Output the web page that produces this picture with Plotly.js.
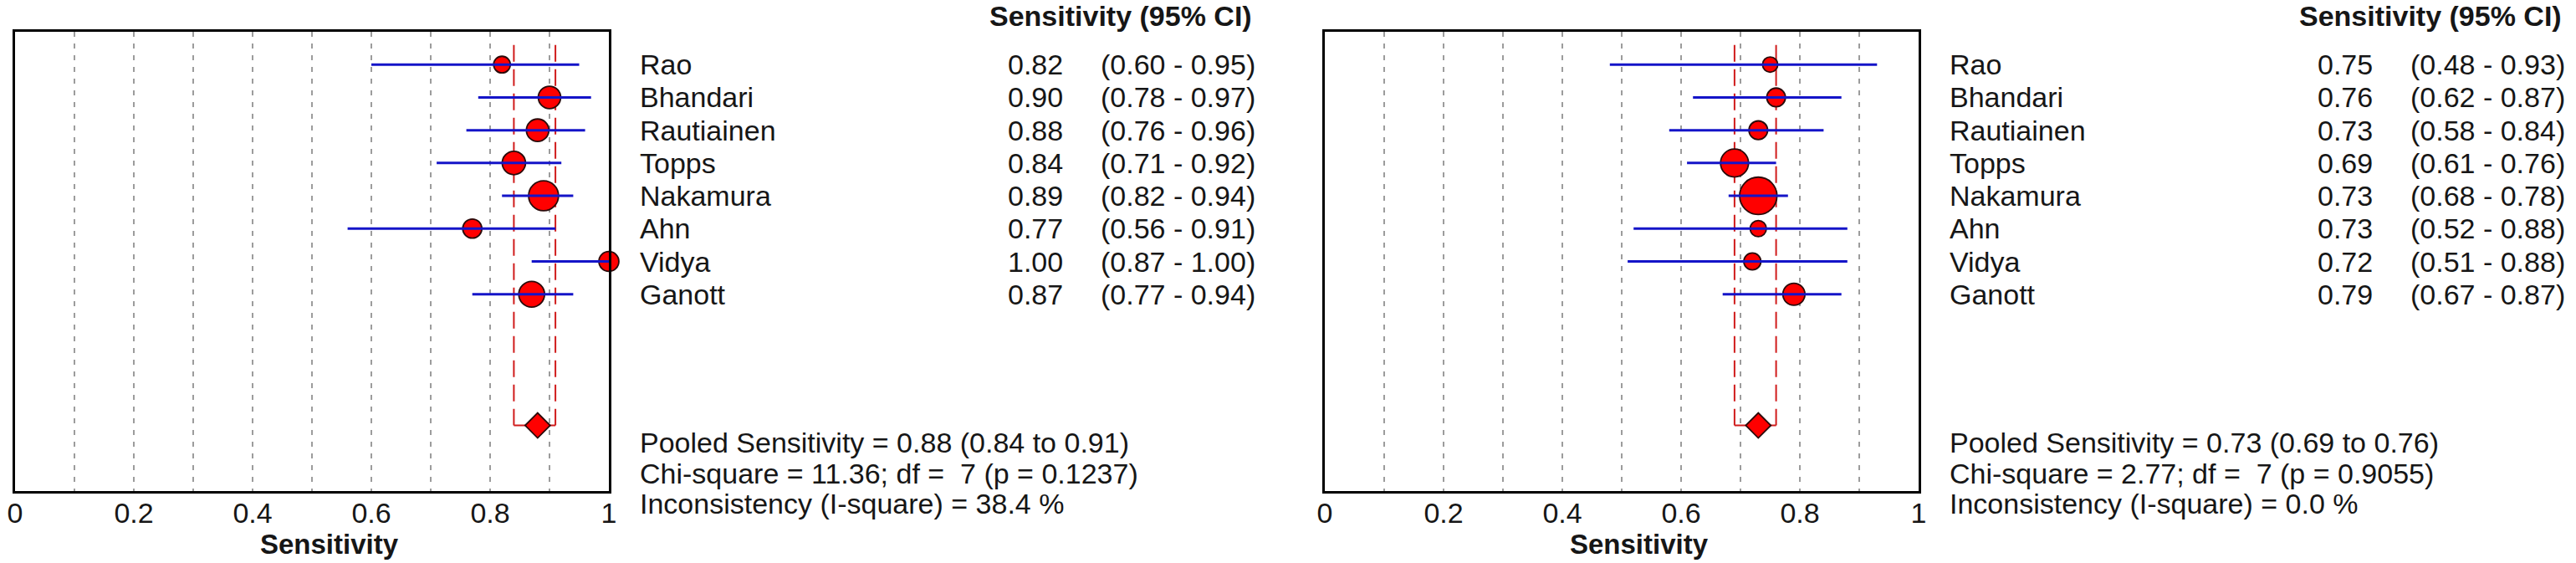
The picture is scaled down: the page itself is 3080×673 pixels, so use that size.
<!DOCTYPE html>
<html>
<head>
<meta charset="utf-8">
<script src="https://cdn.plot.ly/plotly-3.0.1.min.js"></script>
<style>html,body{margin:0;padding:0;background:#fff;}#chart{width:3080px;height:673px;}</style>
</head>
<body>
<div id="chart"></div>
<script>
// ---------- data ----------
const studies = ['Rao', 'Bhandari', 'Rautiainen', 'Topps', 'Nakamura', 'Ahn', 'Vidya', 'Ganott'];

// left panel
const sensA = [0.82, 0.90, 0.88, 0.84, 0.89, 0.77, 1.00, 0.87];
const lowA  = [0.60, 0.78, 0.76, 0.71, 0.82, 0.56, 0.87, 0.77];
const highA = [0.95, 0.97, 0.96, 0.92, 0.94, 0.91, 1.00, 0.94];
const weightA = [6.7, 12.1, 12.1, 13.1, 21.6, 8.8, 9.6, 16.0];   // relative study weight (%)
const pooledA = [0.88, 0.84, 0.91];                              // estimate, lower, upper
const chiA = [11.36, 7, 0.1237];                                 // chi-square, df, p
const i2A = 38.4;

// right panel
const sensB = [0.75, 0.76, 0.73, 0.69, 0.73, 0.73, 0.72, 0.79];
const lowB  = [0.48, 0.62, 0.58, 0.61, 0.68, 0.52, 0.51, 0.67];
const highB = [0.93, 0.87, 0.84, 0.76, 0.78, 0.88, 0.88, 0.87];
const weightB = [5.6, 8.4, 8.4, 18.9, 33.6, 6.3, 7.0, 11.7];
const pooledB = [0.73, 0.69, 0.76];
const chiB = [2.77, 7, 0.9055];
const i2B = 0.0;

const tickVals = [0, 0.2, 0.4, 0.6, 0.8, 1];
const tickText = ['0', '0.2', '0.4', '0.6', '0.8', '1'];
const axisTitle = 'Sensitivity';
const headerText = 'Sensitivity (95% CI)';

// ---------- style / layout constants ----------
const W = 3080, H = 673;
const PLOT_T = 38, PLOT_B = 587;
const FONT = 'Liberation Sans, Arial, Helvetica, sans-serif';
const FS = 34;
const TXT = '#161616';
const POOLED_ROW = 11;
const BRACKET_TOP = -0.6;

const panels = [
  {xa: 'x', ya: 'y', left: 18, right: 728, sens: sensA, lo: lowA, hi: highA, w: weightA, pooled: pooledA, chi: chiA, i2: i2A},
  {xa: 'x2', ya: 'y2', left: 1584, right: 2294, sens: sensB, lo: lowB, hi: highB, w: weightB, pooled: pooledB, chi: chiB, i2: i2B}
];

const rows = studies.map((_, i) => i);
const traces = [];
const annotations = [];
const pyPaper = px => (PLOT_B - px) / (PLOT_B - PLOT_T);

panels.forEach(p => {
  // red bracket (pooled CI): dashed verticals
  traces.push({
    type: 'scatter', mode: 'lines', xaxis: p.xa, yaxis: p.ya, hoverinfo: 'skip', showlegend: false,
    x: [p.pooled[1], p.pooled[1], null, p.pooled[2], p.pooled[2]],
    y: [BRACKET_TOP, POOLED_ROW, null, BRACKET_TOP, POOLED_ROW],
    line: {color: '#d01c1c', width: 2, dash: '20px,9px'}
  });
  // solid bottom connector
  traces.push({
    type: 'scatter', mode: 'lines', xaxis: p.xa, yaxis: p.ya, hoverinfo: 'skip', showlegend: false,
    x: [p.pooled[1], p.pooled[2]], y: [POOLED_ROW, POOLED_ROW],
    line: {color: '#d01c1c', width: 2}
  });
  // study markers
  const wsum = p.w.reduce((a, b) => a + b, 0);
  traces.push({
    type: 'scatter', mode: 'markers', xaxis: p.xa, yaxis: p.ya, showlegend: false, cliponaxis: false,
    x: p.sens, y: rows,
    marker: {symbol: 'circle', color: '#ff0000', opacity: 1, size: p.w.map(v => 77 * Math.sqrt(v / wsum)),
             line: {color: '#2a0a0a', width: 1.8}}
  });
  // CI lines
  const cx = [], cy = [];
  rows.forEach(i => { cx.push(p.lo[i], p.hi[i], null); cy.push(i, i, null); });
  traces.push({
    type: 'scatter', mode: 'lines', xaxis: p.xa, yaxis: p.ya, hoverinfo: 'skip', showlegend: false,
    cliponaxis: false, x: cx, y: cy, line: {color: '#1414c8', width: 3}
  });
  // pooled diamond
  traces.push({
    type: 'scatter', mode: 'markers', xaxis: p.xa, yaxis: p.ya, showlegend: false, cliponaxis: false,
    x: [p.pooled[0]], y: [POOLED_ROW],
    marker: {symbol: 'diamond', color: '#ff0000', opacity: 1, size: 23, line: {color: '#2a0a0a', width: 1.8}}
  });

  // ----- texts -----
  const off = p.left - 18;
  const nameX = (763 + off) / W, valX = (1273 + off) / W, ciX = (1314 + off) / W, hdrX = (1499 + off) / W;
  const base = {showarrow: false, font: {family: FONT, size: FS, color: TXT}};
  studies.forEach((s, i) => {
    annotations.push(Object.assign({}, base, {xref: 'paper', yref: p.ya, x: nameX, y: i, xanchor: 'left', yanchor: 'middle', text: s}));
    annotations.push(Object.assign({}, base, {xref: 'paper', yref: p.ya, x: valX, y: i, xanchor: 'right', yanchor: 'middle', text: p.sens[i].toFixed(2)}));
    annotations.push(Object.assign({}, base, {xref: 'paper', yref: p.ya, x: ciX, y: i, xanchor: 'left', yanchor: 'middle',
      text: '(' + p.lo[i].toFixed(2) + ' - ' + p.hi[i].toFixed(2) + ')'}));
  });
  annotations.push({showarrow: false, xref: 'paper', yref: 'paper', x: hdrX, y: pyPaper(19), xanchor: 'right', yanchor: 'middle',
    text: '<b>' + headerText + '</b>', font: {family: FONT, size: FS, color: TXT}});
  const summary = [
    'Pooled Sensitivity = ' + p.pooled[0].toFixed(2) + ' (' + p.pooled[1].toFixed(2) + ' to ' + p.pooled[2].toFixed(2) + ')',
    'Chi-square = ' + p.chi[0].toFixed(2) + '; df =\u00a0 ' + p.chi[1] + ' (p = ' + p.chi[2].toFixed(4) + ')',
    'Inconsistency (I-square) = ' + p.i2.toFixed(1) + ' %'
  ];
  [529, 566, 602].forEach((py, k) => {
    annotations.push(Object.assign({}, base, {xref: 'paper', yref: 'paper', x: nameX, y: pyPaper(py), xanchor: 'left', yanchor: 'middle', text: summary[k]}));
  });
  // axis title
  annotations.push({showarrow: false, xref: 'paper', yref: 'paper', x: (p.left + 376) / W, y: pyPaper(650),
    xanchor: 'center', yanchor: 'middle', text: '<b>' + axisTitle + '</b>', font: {family: FONT, size: 33, color: TXT}});
});

function xAxis(p, anchor) {
  return {
    domain: [p.left / W, p.right / W], anchor: anchor, range: [0, 1], fixedrange: true,
    tickvals: tickVals, ticktext: tickText, ticks: '', ticklen: 0, ticklabelstandoff: -6,
    tickfont: {family: FONT, size: FS, color: TXT},
    showgrid: true, gridcolor: '#9c9c9c', gridwidth: 2, griddash: '6px,8px',
    minor: {dtick: 0.1, tick0: 0, showgrid: true, gridcolor: '#9c9c9c', gridwidth: 2, griddash: '6px,8px', ticks: ''},
    zeroline: false, showline: true, mirror: true, linecolor: '#000', linewidth: 3
  };
}
function yAxis(anchor) {
  return {domain: [0, 1], anchor: anchor, range: [13, -1], showticklabels: false, ticks: '', showgrid: false,
    zeroline: false, showline: true, mirror: true, linecolor: '#000', linewidth: 3, fixedrange: true};
}

const layout = {
  width: W, height: H, margin: {l: 0, r: 0, t: PLOT_T, b: H - PLOT_B, pad: 0},
  paper_bgcolor: '#fff', plot_bgcolor: '#fff', showlegend: false,
  font: {family: FONT, size: FS, color: TXT},
  xaxis: xAxis(panels[0], 'y'), yaxis: yAxis('x'),
  xaxis2: xAxis(panels[1], 'y2'), yaxis2: yAxis('x2'),
  annotations: annotations
};

Plotly.newPlot('chart', traces, layout, {staticPlot: true, displayModeBar: false});
</script>
</body>
</html>
